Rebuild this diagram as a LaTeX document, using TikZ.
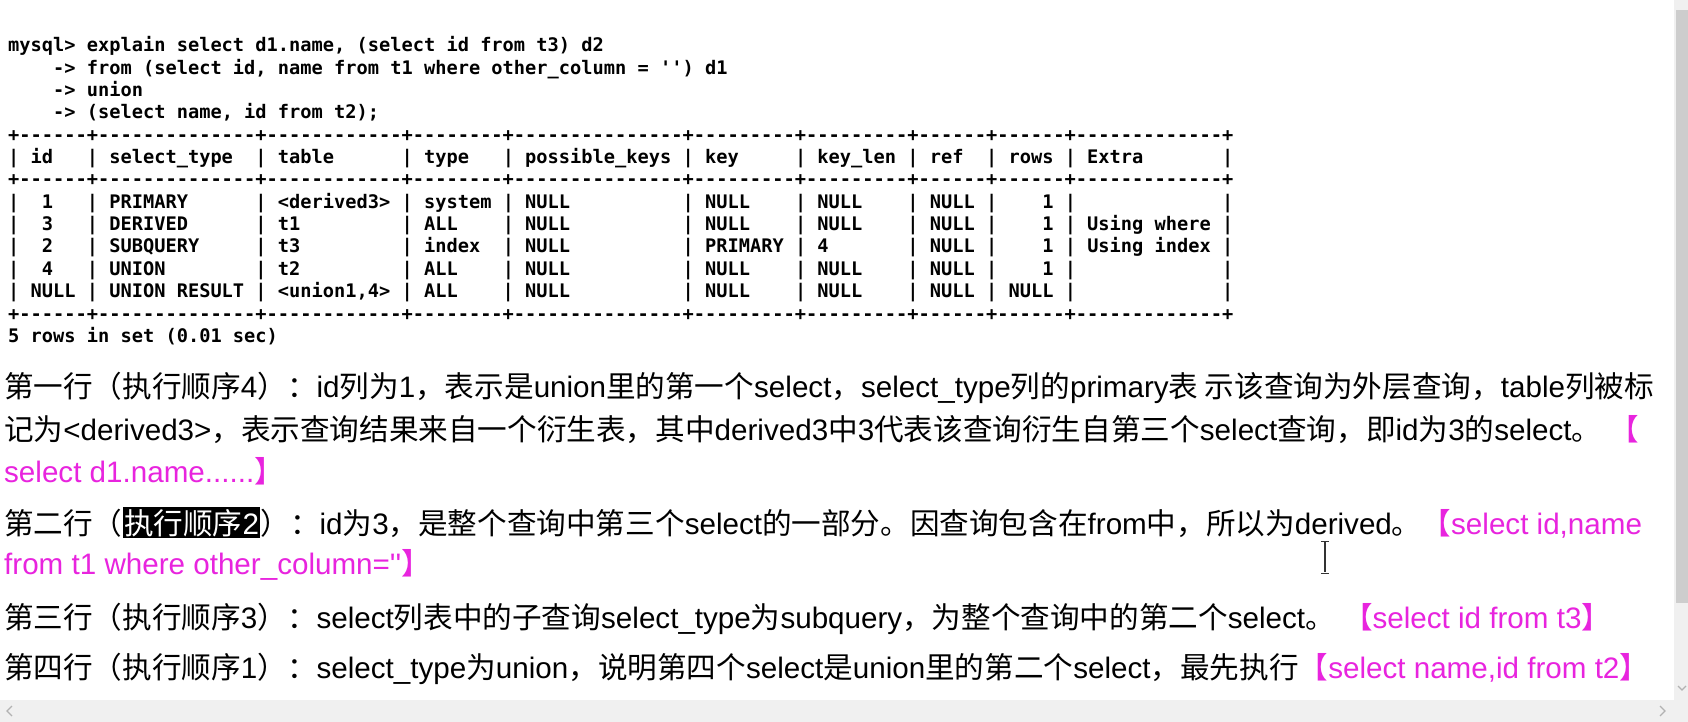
\documentclass[tikz,border=0pt]{standalone}
\usepackage{fontspec}
\setmainfont{Liberation Sans}[Ligatures=TeXOff]
\newfontfamily\sqlfont{DejaVu Sans Mono}[Ligatures=TeXOff]
\newfontfamily\zhfont{Noto Sans CJK SC}
\newcommand{\zh}[1]{{\zhfont #1}}
\newcommand{\markbox}[1]{{\setlength{\fboxsep}{1.5pt}\colorbox{black}{\color{white}#1}}}
\newcommand{\sqlrule}{+------+--------------+------------+--------+---------------+---------+---------+------+------+-------------+}
\definecolor{notepink}{RGB}{232,36,222}
\definecolor{barthumb}{RGB}{205,205,205}
\definecolor{bartrack}{RGB}{240,240,240}

\begin{document}
\begin{tikzpicture}[x=1pt, y=-1pt,
    sqlline/.style={anchor=base west, inner sep=0pt, font=\sqlfont\bfseries\fontsize{18.67}{22}\selectfont},
    noteline/.style={anchor=base west, inner sep=0pt, font=\fontsize{29.6}{32}\selectfont\frenchspacing}]
        \useasboundingbox (0,0) rectangle (1688,722);
        \fill[white] (0,0) rectangle (1688,722);

        \foreach \txt [count=\k from 0] in {
            {mysql>~explain~select~d1.name,~(select~id~from~t3)~d2},
            {~~~~->~from~(select~id,~name~from~t1~where~other\_column~=~'')~d1},
            {~~~~->~union},
            {~~~~->~(select~name,~id~from~t2);},
            {\sqlrule},
            {|~id~~~|~select\_type~~|~table~~~~~~|~type~~~|~possible\_keys~|~key~~~~~|~key\_len~|~ref~~|~rows~|~Extra~~~~~~~|},
            {\sqlrule},
            {|~~1~~~|~PRIMARY~~~~~~|~<derived3>~|~system~|~NULL~~~~~~~~~~|~NULL~~~~|~NULL~~~~|~NULL~|~~~~1~|~~~~~~~~~~~~~|},
            {|~~3~~~|~DERIVED~~~~~~|~t1~~~~~~~~~|~ALL~~~~|~NULL~~~~~~~~~~|~NULL~~~~|~NULL~~~~|~NULL~|~~~~1~|~Using~where~|},
            {|~~2~~~|~SUBQUERY~~~~~|~t3~~~~~~~~~|~index~~|~NULL~~~~~~~~~~|~PRIMARY~|~4~~~~~~~|~NULL~|~~~~1~|~Using~index~|},
            {|~~4~~~|~UNION~~~~~~~~|~t2~~~~~~~~~|~ALL~~~~|~NULL~~~~~~~~~~|~NULL~~~~|~NULL~~~~|~NULL~|~~~~1~|~~~~~~~~~~~~~|},
            {|~NULL~|~UNION~RESULT~|~<union1,4>~|~ALL~~~~|~NULL~~~~~~~~~~|~NULL~~~~|~NULL~~~~|~NULL~|~NULL~|~~~~~~~~~~~~~|},
            {\sqlrule},
            {5~rows~in~set~(0.01~sec)}}
            \node[sqlline] (sql-\k) at (8, 51.7+22.36*\k) {\txt};

        \node[noteline] (first-a) at (4,397) {\zh{第一行（执行顺序}4\zh{）：}id\zh{列为}1\zh{，表示是}union\zh{里的第一个}select\zh{，}select\_type\zh{列的}primary\zh{表 示该查询为外层查询，}table\zh{列被标}};
        \node[noteline] (first-b) at (4,440) {\zh{记为}<derived3>\zh{，表示查询结果来自一个衍生表，其中}derived3\zh{中}3\zh{代表该查询衍生自第三个}select\zh{查询，即}id\zh{为}3\zh{的}select\zh{。} \textcolor{notepink}{\zh{【}}};
        \node[noteline, text=notepink] (first-c) at (4,482) {select d1.name......\zh{】}};

        \node[noteline] (second-a) at (4,534) {\zh{第二行（}\markbox{\zh{执行顺序}2}\zh{）：}id\zh{为}3\zh{，是整个查询中第三个}select\zh{的一部分。因查询包含在}from\zh{中，所以为}derived\zh{。}\textcolor{notepink}{\zh{【}select id,name}};
        \node[noteline, text=notepink] (second-b) at (4,574) {from t1 where other\_column=''\zh{】}};

        \node[noteline] (third) at (4,628) {\zh{第三行（执行顺序}3\zh{）：}select\zh{列表中的子查询}select\_type\zh{为}subquery\zh{，为整个查询中的第二个}select\zh{。} \textcolor{notepink}{\zh{【}select id from t3\zh{】}}};
        \node[noteline] (fourth) at (4,678) {\zh{第四行（执行顺序}1\zh{）：}select\_type\zh{为}union\zh{，说明第四个}select\zh{是}union\zh{里的第二个}select\zh{，最先执行}\textcolor{notepink}{\zh{【}select name,id from t2\zh{】}}};

        \draw[line width=1.3pt, black!80] (1325,542) -- (1325,572);
        \draw[line width=1pt, black!80] (1321,541) -- (1329,541) (1321,573) -- (1329,573);

        \fill[bartrack] (1674,0) rectangle (1688,700);
        \fill[barthumb] (1676,10) rectangle (1688,603);
        \fill[bartrack] (0,700) rectangle (1688,722);
        \draw[gray!60, line width=1.2pt] (12,706) -- (7,711) -- (12,716);
        \draw[gray!60, line width=1.2pt] (1660,706) -- (1665,711) -- (1660,716);
        \draw[gray!60, line width=1.2pt] (1678,686) -- (1682,690) -- (1686,686);
    \end{tikzpicture}
\end{document}
